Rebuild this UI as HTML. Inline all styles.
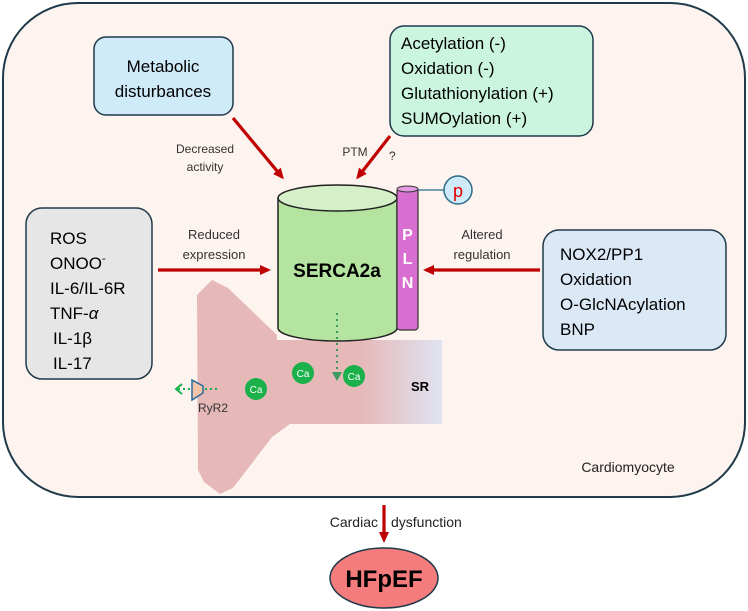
<!DOCTYPE html>
<html><head><meta charset="utf-8"><style>
html,body{margin:0;padding:0;background:#fff}
svg{display:block}
text{font-family:"Liberation Sans",sans-serif}
</style></head><body>
<svg width="748" height="611" viewBox="0 0 748 611" xmlns="http://www.w3.org/2000/svg">
<defs>
<linearGradient id="sr" x1="0" x2="1" y1="0" y2="0">
<stop offset="0" stop-color="#e6b8b8"/><stop offset="0.5" stop-color="#e6b8b8"/><stop offset="1" stop-color="#dfe3f0"/>
</linearGradient>
<marker id="ar" markerWidth="12" markerHeight="12" refX="8" refY="6" orient="auto" markerUnits="userSpaceOnUse"><path d="M0,1 L11,6 L0,11 z" fill="#c00000"/></marker>
</defs>
<rect x="3" y="3" width="742" height="494" rx="75" fill="#fdf3ef" stroke="#1f3a4a" stroke-width="2"/>
<path d="M197,295 L212,280 L228,288 L277,335 L277,340 L442,340 L442,424 L290,424 L272,437 L233,488 L220,494 L204,482 L198,470 Z" fill="#e6b8b8"/>
<rect x="277" y="340" width="165" height="84" fill="url(#sr)"/>
<text x="420" y="391" font-size="13" font-weight="bold" text-anchor="middle">SR</text>
<rect x="94" y="37" width="139" height="78" rx="12" fill="#cfeaf8" stroke="#1f3a4a" stroke-width="1.5"/>
<text x="163" y="72" font-size="17" text-anchor="middle">Metabolic</text>
<text x="163" y="97" font-size="17" text-anchor="middle">disturbances</text>
<rect x="390" y="26" width="203" height="110" rx="14" fill="#ccf5e0" stroke="#1f3a4a" stroke-width="1.5"/>
<text x="401" y="49" font-size="17">Acetylation (-)</text>
<text x="401" y="74" font-size="17">Oxidation (-)</text>
<text x="401" y="99" font-size="17">Glutathionylation (+)</text>
<text x="401" y="124" font-size="17">SUMOylation (+)</text>
<rect x="26" y="208" width="126" height="171" rx="16" fill="#e6e6e6" stroke="#1f3a4a" stroke-width="1.5"/>
<text x="50" y="244" font-size="17">ROS</text>
<text x="50" y="269" font-size="17">ONOO<tspan dy="-7" font-size="11">-</tspan></text>
<text x="50" y="294" font-size="17">IL-6/IL-6R</text>
<text x="50" y="319" font-size="17">TNF-<tspan font-style="italic">α</tspan></text>
<text x="53" y="344" font-size="17">IL-1β</text>
<text x="53" y="369" font-size="17">IL-17</text>
<rect x="543" y="230" width="183" height="120" rx="16" fill="#dbe9f7" stroke="#1f3a4a" stroke-width="1.5"/>
<text x="560" y="260" font-size="17">NOX2/PP1</text>
<text x="560" y="285" font-size="17">Oxidation</text>
<text x="560" y="310" font-size="17">O-GlcNAcylation</text>
<text x="560" y="335" font-size="17">BNP</text>
<g stroke="#c00000" stroke-width="3.2" fill="none" marker-end="url(#ar)">
<line x1="233" y1="118" x2="282" y2="177"/>
<line x1="390" y1="136" x2="358" y2="177"/>
<line x1="158" y1="270" x2="268" y2="270"/>
<line x1="540" y1="270" x2="426" y2="270"/>
<line x1="384" y1="505" x2="384" y2="540"/>
</g>
<text x="205" y="153" font-size="12" fill="#333" text-anchor="middle">Decreased</text>
<text x="205" y="171" font-size="12" fill="#333" text-anchor="middle">activity</text>
<text x="355" y="156" font-size="12" fill="#333" text-anchor="middle">PTM</text>
<text x="389" y="160" font-size="12" fill="#333">?</text>
<text x="214" y="239" font-size="13" fill="#333" text-anchor="middle">Reduced</text>
<text x="214" y="259" font-size="13" fill="#333" text-anchor="middle">expression</text>
<text x="482" y="239" font-size="13" fill="#333" text-anchor="middle">Altered</text>
<text x="482" y="259" font-size="13" fill="#333" text-anchor="middle">regulation</text>
<path d="M278,198 L278,328 A59.5,13 0 0 0 397,328 L397,198 Z" fill="#b5e3a0" stroke="#222" stroke-width="1.5"/>
<ellipse cx="337.5" cy="198" rx="59.5" ry="13" fill="#d5f0c8" stroke="#222" stroke-width="1.5"/>
<text x="337" y="277" font-size="19" font-weight="bold" text-anchor="middle">SERCA2a</text>
<rect x="397" y="188" width="21" height="142" rx="3" fill="#d86fd0" stroke="#333" stroke-width="1.2"/>
<ellipse cx="407.5" cy="189" rx="10.5" ry="3" fill="#e49be0" stroke="#333" stroke-width="1"/>
<text x="407.5" y="240" font-size="16" font-weight="bold" fill="#fff" text-anchor="middle">P</text>
<text x="407.5" y="264" font-size="16" font-weight="bold" fill="#fff" text-anchor="middle">L</text>
<text x="407.5" y="288" font-size="16" font-weight="bold" fill="#fff" text-anchor="middle">N</text>
<line x1="418" y1="190" x2="444" y2="190" stroke="#2a6a8a" stroke-width="1.2"/>
<circle cx="458" cy="190" r="14" fill="#cfeaf8" stroke="#2a6a8a" stroke-width="1.5"/>
<text x="458" y="197" font-size="18" fill="#e00000" text-anchor="middle">p</text>
<line x1="337" y1="313" x2="337" y2="372" stroke="#3a9a60" stroke-width="2" stroke-dasharray="2,4"/>
<path d="M332,372 L342,372 L337,381 z" fill="#3a9a60"/>
<g font-size="10" fill="#fff" text-anchor="middle">
<circle cx="256" cy="389" r="11" fill="#1ab04a"/><text x="256" y="393">Ca</text>
<circle cx="303" cy="373" r="11" fill="#1ab04a"/><text x="303" y="377">Ca</text>
<circle cx="354" cy="376" r="11" fill="#1ab04a"/><text x="354" y="380">Ca</text>
</g>
<path d="M192,380 L203,386 L203,393 L192,400 Z" fill="#f2c4a8" stroke="#2a6a9a" stroke-width="1.5"/>
<line x1="205" y1="389" x2="218" y2="389" stroke="#1ab04a" stroke-width="2" stroke-dasharray="2,3"/>
<line x1="178" y1="389" x2="190" y2="389" stroke="#1ab04a" stroke-width="2" stroke-dasharray="2,3"/>
<path d="M182,384 L176,389 L182,394" fill="none" stroke="#1ab04a" stroke-width="2"/>
<text x="213" y="412" font-size="12" fill="#333" text-anchor="middle">RyR2</text>
<text x="628" y="472" font-size="14" fill="#222" text-anchor="middle">Cardiomyocyte</text>
<text x="378" y="527" font-size="14" fill="#222" text-anchor="end">Cardiac</text>
<text x="391" y="527" font-size="14" fill="#222">dysfunction</text>
<ellipse cx="384" cy="578" rx="54" ry="30" fill="#f47c7c" stroke="#1f3a4a" stroke-width="1.5"/>
<text x="384" y="587" font-size="24" font-weight="bold" text-anchor="middle">HFpEF</text>
</svg>
</body></html>
